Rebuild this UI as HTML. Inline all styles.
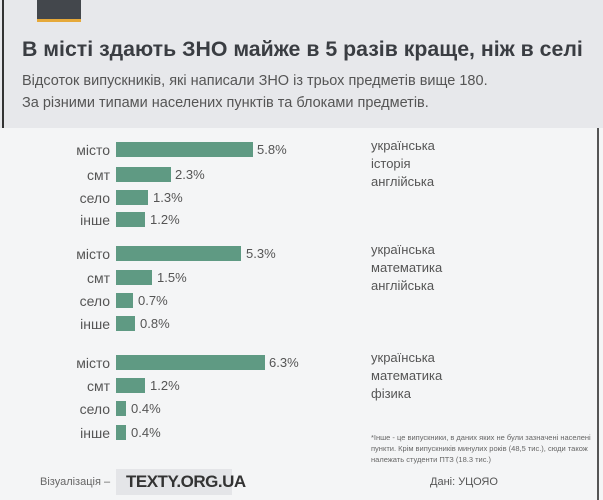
<!DOCTYPE html>
<html><head><meta charset="utf-8"><style>
body{margin:0;width:603px;height:500px;overflow:hidden;background:#f4f5f6;font-family:"Liberation Sans","DejaVu Sans",sans-serif;position:relative}
.hdr{position:absolute;left:0;top:0;width:603px;height:128px;background:#e7e8eb}
.a{position:absolute;white-space:nowrap}
.lbl{position:absolute;width:70px;left:40px;text-align:right;font-size:14px;color:#555;line-height:16px}
.bar{position:absolute;left:116px;height:15px;background:#5f9a83}
.v{position:absolute;font-size:13px;color:#555;line-height:16px}
.leg{position:absolute;left:371px;font-size:13px;color:#555;line-height:18px}
</style></head><body>
<div class="hdr"></div>
<div class="a" style="left:2px;top:0;width:2px;height:128px;background:#333"></div>
<div class="a" style="left:597px;top:128px;width:2px;height:372px;background:#555"></div>
<div class="a" style="left:37px;top:0;width:44px;height:19px;background:#43474c"></div>
<div class="a" style="left:37px;top:19px;width:44px;height:3px;background:#e6a93a"></div>
<div class="a" style="left:22px;top:37px;font-size:21.3px;font-weight:bold;color:#3a3d42">В місті здають ЗНО майже в 5 разів краще, ніж в селі</div>
<div class="a" style="left:22px;top:70px;font-size:14.5px;color:#555;line-height:22px">Відсоток випускників, які написали ЗНО із трьох предметів вище 180.<br>За різними типами населених пунктів та блоками предметів.</div>

<div class="lbl" style="top:142px">місто</div><div class="bar" style="top:142px;width:137px"></div><div class="v" style="left:257px;top:142px">5.8%</div>
<div class="lbl" style="top:167px">смт</div><div class="bar" style="top:167px;width:55px"></div><div class="v" style="left:175px;top:167px">2.3%</div>
<div class="lbl" style="top:190px">село</div><div class="bar" style="top:190px;width:32px"></div><div class="v" style="left:153px;top:190px">1.3%</div>
<div class="lbl" style="top:212px">інше</div><div class="bar" style="top:212px;width:29px"></div><div class="v" style="left:150px;top:212px">1.2%</div>
<div class="leg" style="top:137px">українська<br>історія<br>англійська</div>

<div class="lbl" style="top:246px">місто</div><div class="bar" style="top:246px;width:125px"></div><div class="v" style="left:246px;top:246px">5.3%</div>
<div class="lbl" style="top:270px">смт</div><div class="bar" style="top:270px;width:36px"></div><div class="v" style="left:157px;top:270px">1.5%</div>
<div class="lbl" style="top:293px">село</div><div class="bar" style="top:293px;width:17px"></div><div class="v" style="left:138px;top:293px">0.7%</div>
<div class="lbl" style="top:316px">інше</div><div class="bar" style="top:316px;width:19px"></div><div class="v" style="left:140px;top:316px">0.8%</div>
<div class="leg" style="top:241px">українська<br>математика<br>англійська</div>

<div class="lbl" style="top:355px">місто</div><div class="bar" style="top:355px;width:149px"></div><div class="v" style="left:269px;top:355px">6.3%</div>
<div class="lbl" style="top:378px">смт</div><div class="bar" style="top:378px;width:29px"></div><div class="v" style="left:150px;top:378px">1.2%</div>
<div class="lbl" style="top:401px">село</div><div class="bar" style="top:401px;width:10px"></div><div class="v" style="left:131px;top:401px">0.4%</div>
<div class="lbl" style="top:425px">інше</div><div class="bar" style="top:425px;width:10px"></div><div class="v" style="left:131px;top:425px">0.4%</div>
<div class="leg" style="top:349px">українська<br>математика<br>фізика</div>

<div class="a" style="left:371px;top:432px;font-size:7.5px;color:#666;line-height:11px">*Інше - це випускники, в даних яких не були зазначені населені<br>пункти. Крім випускників минулих років (48,5 тис.), сюди також<br>належать студенти ПТЗ (18.3 тис.)</div>
<div class="a" style="left:40px;top:476px;font-size:11px;color:#666">Візуалізація –</div>
<div class="a" style="left:116px;top:469px;width:116px;height:26px;background:#e4e5e8"></div>
<div class="a" style="left:126px;top:472px;font-size:17px;font-weight:bold;color:#333;letter-spacing:-0.5px">TEXTY.ORG.UA</div>
<div class="a" style="left:430px;top:476px;font-size:11px;color:#555">Дані: УЦОЯО</div>
</body></html>
